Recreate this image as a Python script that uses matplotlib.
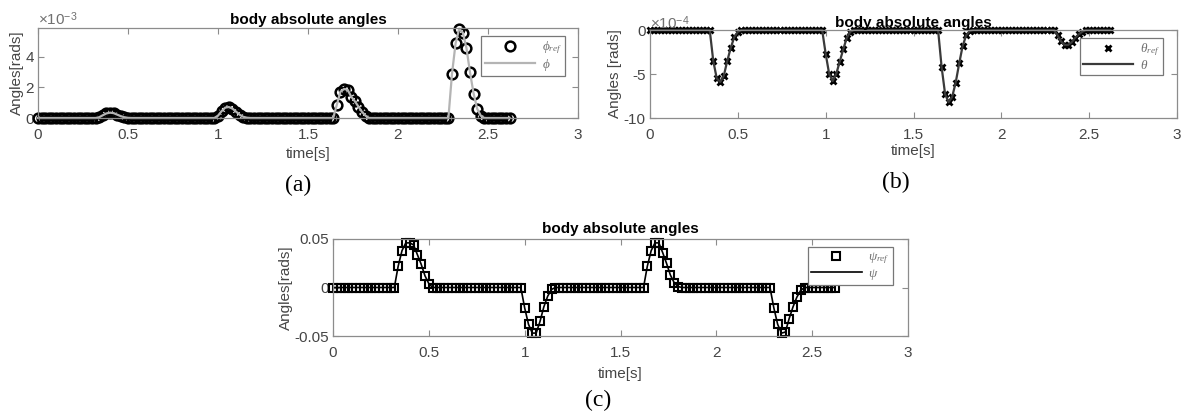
import numpy as np
import matplotlib
matplotlib.use("Agg")
import matplotlib.pyplot as plt

plt.rcParams['font.family'] = ['Liberation Sans', 'DejaVu Sans']
plt.rcParams['mathtext.fontset'] = 'custom'
plt.rcParams['mathtext.rm'] = 'Liberation Sans'
plt.rcParams['mathtext.it'] = 'Liberation Serif:italic'

# ---------------- data ----------------
t_end = 2.62
dt = 0.02
time = np.round(np.arange(0, t_end + 1e-9, dt), 2)

# phi (x1e-3): bump start times and bump values
phi_starts = [0.34, 1.00, 1.66, 2.30]
phi_bumps = [
    [0.05, 0.18, 0.30, 0.35, 0.32, 0.22, 0.12, 0.05, 0.01],
    [0.15, 0.45, 0.68, 0.72, 0.62, 0.42, 0.22, 0.08, 0.02],
    [0.85, 1.72, 1.90, 1.85, 1.40, 1.10, 0.75, 0.40, 0.15],
    [2.90, 4.90, 5.85, 5.60, 4.60, 3.00, 1.60, 0.60, 0.15],
]
# theta (x1e-4)
theta_starts = [0.36, 1.00, 1.66, 2.32]
theta_bumps = [
    [-3.5, -5.5, -5.9, -5.2, -3.5, -2.0, -0.8, -0.2],
    [-2.7, -5.0, -5.8, -5.0, -3.6, -2.2, -0.9, -0.2],
    [-4.2, -7.3, -8.2, -7.6, -6.0, -3.8, -1.8, -0.6, -0.1],
    [-0.6, -1.3, -1.7, -1.7, -1.4, -0.9, -0.5, -0.2],
]
# psi
psi_starts = [0.34, 1.00, 1.64, 2.30]
psi_bumps = [
    [0.022, 0.038, 0.046, 0.046, 0.044, 0.034, 0.024, 0.012, 0.004],
    [-0.021, -0.038, -0.047, -0.047, -0.035, -0.020, -0.009, -0.002],
    [0.022, 0.038, 0.046, 0.046, 0.036, 0.025, 0.013, 0.005, 0.001],
    [-0.021, -0.038, -0.047, -0.046, -0.032, -0.020, -0.010, -0.003],
]

xticks = [0, 0.5, 1, 1.5, 2, 2.5, 3]
xticklabels = ['0', '0.5', '1', '1.5', '2', '2.5', '3']


def build(starts, bumps, scale):
    y = np.zeros_like(time)
    for s, b in zip(starts, bumps):
        i0 = int(round(s / dt))
        y[i0:i0 + len(b)] = np.array(b) * scale
    return y


phi_ref = build(phi_starts, phi_bumps, 1e-3)
theta_ref = build(theta_starts, theta_bumps, 1e-4)
psi_ref = build(psi_starts, psi_bumps, 1.0)

W, H = 1183, 417
fig = plt.figure(figsize=(W / 100, H / 100), dpi=100)


def px_axes(l, t, r, b):
    return fig.add_axes([l / W, 1 - b / H, (r - l) / W, (b - t) / H])


TICKC = '#454545'
SPINEC = '#8c8c8c'
FS = 11


def style(ax):
    ax.set_xlim(0, 3)
    ax.set_xticks(xticks)
    ax.set_xticklabels(xticklabels)
    ax.tick_params(direction='in', length=4, width=0.8, color=SPINEC,
                   labelsize=FS, labelcolor=TICKC, top=True, right=True)
    ax.tick_params(axis='x', pad=7)
    ax.tick_params(axis='y', pad=3)
    for s in ax.spines.values():
        s.set_color(SPINEC)
        s.set_linewidth(0.9)
    ax.set_facecolor('white')


def legend(ax, x, y):
    lg = ax.legend(loc='upper right', bbox_to_anchor=(x, y), fancybox=False,
                   edgecolor='#777777', framealpha=1, fontsize=9.5,
                   handlelength=3.8, borderaxespad=0, labelspacing=0.05,
                   borderpad=0.25, handletextpad=0.5)
    lg.get_frame().set_linewidth(0.9)
    for tx in lg.get_texts():
        tx.set_color('#707070')
    return lg


def panel_label(x, y, s):
    fig.text(x / W, 1 - y / H, s, family='Liberation Serif', fontsize=17,
             ha='center', va='center')


# ---------------- (a) ----------------
ax = px_axes(38, 28, 578, 118)
ax.plot(time, phi_ref, 'o', mfc='none', mec='black', ms=7, mew=1.8,
        clip_on=False, label=r'$\phi_{ref}$')
ax.plot(time, phi_ref, '-', color='#b4b4b4', lw=1.6, clip_on=False, label=r'$\phi$')
style(ax)
ax.set_ylim(0, 5.9e-3)
ax.set_yticks([0, 2e-3, 4e-3])
ax.set_yticklabels(['0', '2', '4'])
ax.set_title('body absolute angles', fontsize=FS, fontweight='bold', pad=3)
ax.set_xlabel('time[s]', fontsize=FS, color=TICKC, labelpad=4)
ax.set_ylabel('Angles[rads]', fontsize=FS, color=TICKC, labelpad=1)
ax.text(0.0, 1.0, r'$\times10^{-3}$', transform=ax.transAxes, fontsize=FS,
        color='#707070', ha='left', va='bottom')
legend(ax, 0.976, 0.911)
panel_label(298, 185, '(a)')

# ---------------- (b) ----------------
ax = px_axes(650, 30, 1177, 118)
ax.plot(time, theta_ref, 'x', color='black', ms=5, mew=2.0, clip_on=False,
        label=r'$\theta_{ref}$')
ax.plot(time, theta_ref, '-', color='#3a3a3a', lw=1.6, clip_on=False, label=r'$\theta$')
style(ax)
ax.set_ylim(-10e-4, 0)
ax.set_yticks([-10e-4, -5e-4, 0])
ax.set_yticklabels(['-10', '-5', '0'])
ax.set_title('body absolute angles', fontsize=FS, fontweight='bold', pad=2)
ax.set_xlabel('time[s]', fontsize=FS, color=TICKC, labelpad=2)
ax.set_ylabel('Angles [rads]', fontsize=FS, color=TICKC, labelpad=1)
ax.text(0.0, 0.98, r'$\times10^{-4}$', transform=ax.transAxes, fontsize=FS,
        color='#707070', ha='left', va='bottom')
legend(ax, 0.973, 0.909)
panel_label(896, 182, '(b)')

# ---------------- (c) ----------------
ax = px_axes(333, 239, 908, 336)
ax.plot(time, psi_ref, 's', mfc='none', mec='black', ms=5.5, mew=1.5,
        clip_on=False, label=r'$\psi_{ref}$')
ax.plot(time, psi_ref, '-', color='black', lw=1.2, clip_on=False, label=r'$\psi$')
style(ax)
ax.set_ylim(-0.05, 0.05)
ax.set_yticks([-0.05, 0, 0.05])
ax.set_yticklabels(['-0.05', '0', '0.05'])
ax.set_title('body absolute angles', fontsize=FS, fontweight='bold', pad=4)
ax.set_xlabel('time[s]', fontsize=FS, color=TICKC, labelpad=5)
ax.set_ylabel('Angles[rads]', fontsize=FS, color=TICKC, labelpad=1)
legend(ax, 0.974, 0.918)
panel_label(598, 400, '(c)')

fig.savefig('out.png', dpi=100, facecolor='white')
